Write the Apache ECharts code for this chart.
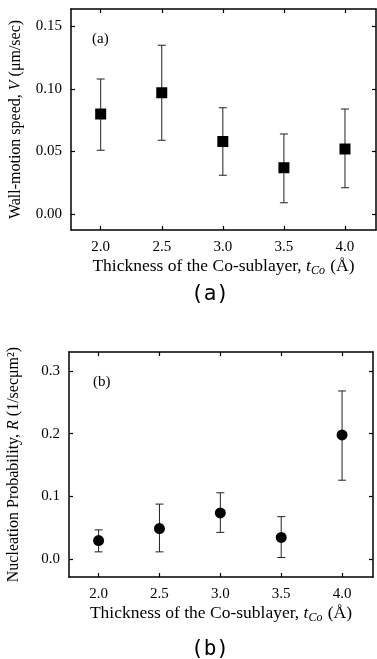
<!DOCTYPE html>
<html><head><meta charset="utf-8">
<script src="https://cdn.jsdelivr.net/npm/echarts@6/dist/echarts.min.js"></script>
<style>html,body{margin:0;padding:0;background:#fff}#c{width:377px;height:659px}</style>
</head><body><div id="c"></div>
<script>
const thickness = [2.0, 2.5, 3.0, 3.5, 4.0];
const speed = [0.080, 0.097, 0.058, 0.037, 0.052];
const speedLow = [0.051, 0.059, 0.031, 0.009, 0.021];
const speedHigh = [0.108, 0.135, 0.085, 0.064, 0.084];
const nucl = [0.030, 0.049, 0.074, 0.035, 0.198];
const nuclLow = [0.012, 0.012, 0.043, 0.003, 0.126];
const nuclHigh = [0.047, 0.088, 0.106, 0.068, 0.268];
const xTicks = [2.0, 2.5, 3.0, 3.5, 4.0];
const yTicksA = [0, 0.05, 0.10, 0.15];
const yTicksB = [0, 0.1, 0.2, 0.3];

const serif = '"Liberation Serif", "DejaVu Serif", serif';
const ink = '#000';

function errData(lo, hi) { return thickness.map((x, i) => [x, lo[i], hi[i]]); }
function errRender(params, api) {
  const x = api.value(0);
  const p1 = api.coord([x, api.value(1)]);
  const p2 = api.coord([x, api.value(2)]);
  const w = 4;
  const st = { stroke: '#222', lineWidth: 1 };
  return { type: 'group', children: [
    { type: 'line', shape: { x1: p1[0], y1: p1[1], x2: p2[0], y2: p2[1] }, style: st },
    { type: 'line', shape: { x1: p1[0]-w, y1: p1[1], x2: p1[0]+w, y2: p1[1] }, style: st },
    { type: 'line', shape: { x1: p2[0]-w, y1: p2[1], x2: p2[0]+w, y2: p2[1] }, style: st }
  ]};
}

const lineStyle = { color: ink, width: 1.5 };
function xAx(gi, pos, show) {
  return {
    type: 'value', gridIndex: gi, position: pos, min: 1.757, max: 4.254,
    axisLine: { show: true, onZero: false, lineStyle },
    axisTick: { show: true, inside: true, length: 4, customValues: xTicks, lineStyle: { color: ink, width: 1.2 } },
    axisLabel: show ? { show: true, customValues: xTicks, margin: 10, fontFamily: serif, fontSize: 15, color: ink, formatter: v => v.toFixed(1) } : { show: false },
    splitLine: { show: false },
    name: show ? '{n|Thickness of the Co-sublayer, }{t|t}{s|Co}{n| (Å)}' : '',
    nameLocation: 'middle', nameGap: 26,
    nameTextStyle: { rich: {
      n: { fontFamily: serif, fontSize: 17.5, color: ink },
      t: { fontFamily: serif, fontSize: 17.5, fontStyle: 'italic', color: ink },
      s: { fontFamily: serif, fontSize: 12, fontStyle: 'italic', color: ink, padding: [9, 1, 0, 0] }
    } }
  };
}
function yAx(gi, pos, show, min, max, ticks, dec, nameRich) {
  return {
    type: 'value', gridIndex: gi, position: pos, min, max,
    axisLine: { show: true, onZero: false, lineStyle },
    axisTick: { show: true, inside: true, length: 4, customValues: ticks, lineStyle: { color: ink, width: 1.2 } },
    axisLabel: show ? { show: true, customValues: ticks, margin: 9, fontFamily: serif, fontSize: 15, color: ink, formatter: v => v.toFixed(dec) } : { show: false },
    splitLine: { show: false },
    name: show ? nameRich : '',
    nameLocation: 'middle', nameGap: 47, nameRotate: 90,
    nameTextStyle: { rich: {
      n: { fontFamily: serif, fontSize: 16, color: ink },
      i: { fontFamily: serif, fontSize: 16, fontStyle: 'italic', color: ink }
    } }
  };
}

const option = {
  backgroundColor: '#fff',
  animation: false,
  grid: [
    { left: 71, right: 1, top: 9, height: 221, outerBoundsMode: 'none', containLabel: false },
    { left: 69, right: 4, top: 352, height: 225, outerBoundsMode: 'none', containLabel: false }
  ],
  xAxis: [xAx(0, 'bottom', true), xAx(0, 'top', false), xAx(1, 'bottom', true), xAx(1, 'top', false)],
  yAxis: [
    yAx(0, 'left', true, -0.0128, 0.164, yTicksA, 2, '{n|Wall-motion speed, }{i|V}{n| (μm/sec)}'),
    yAx(0, 'right', false, -0.0128, 0.164, yTicksA, 2, ''),
    yAx(1, 'left', true, -0.028, 0.33, yTicksB, 1, '{n|Nucleation Probability, }{i|R}{n| (1/secμm²)}'),
    yAx(1, 'right', false, -0.028, 0.33, yTicksB, 1, '')
  ],
  series: [
    { type: 'custom', xAxisIndex: 0, yAxisIndex: 0, data: errData(speedLow, speedHigh), renderItem: errRender, z: 2 },
    { type: 'scatter', xAxisIndex: 0, yAxisIndex: 0, data: thickness.map((x, i) => [x, speed[i]]), symbol: 'rect', symbolSize: 11, itemStyle: { color: '#000', opacity: 1 }, z: 3 },
    { type: 'custom', xAxisIndex: 2, yAxisIndex: 2, data: errData(nuclLow, nuclHigh), renderItem: errRender, z: 2 },
    { type: 'scatter', xAxisIndex: 2, yAxisIndex: 2, data: thickness.map((x, i) => [x, nucl[i]]), symbol: 'circle', symbolSize: 11, itemStyle: { color: '#000', opacity: 1 }, z: 3 }
  ],
  graphic: [
    { type: 'text', left: 92, top: 32, style: { text: '(a)', font: '15px ' + serif, fill: ink } },
    { type: 'text', left: 93, top: 375, style: { text: '(b)', font: '15px ' + serif, fill: ink } },
    { type: 'text', x: 210, y: 295, style: { text: '(a)', font: '21px "DejaVu Sans Mono"', fill: ink, align: 'center', verticalAlign: 'middle' } },
    { type: 'text', x: 210, y: 650, style: { text: '(b)', font: '21px "DejaVu Sans Mono"', fill: ink, align: 'center', verticalAlign: 'middle' } }
  ]
};
const chart = echarts.init(document.getElementById('c'));
chart.setOption(option);
</script></body></html>
